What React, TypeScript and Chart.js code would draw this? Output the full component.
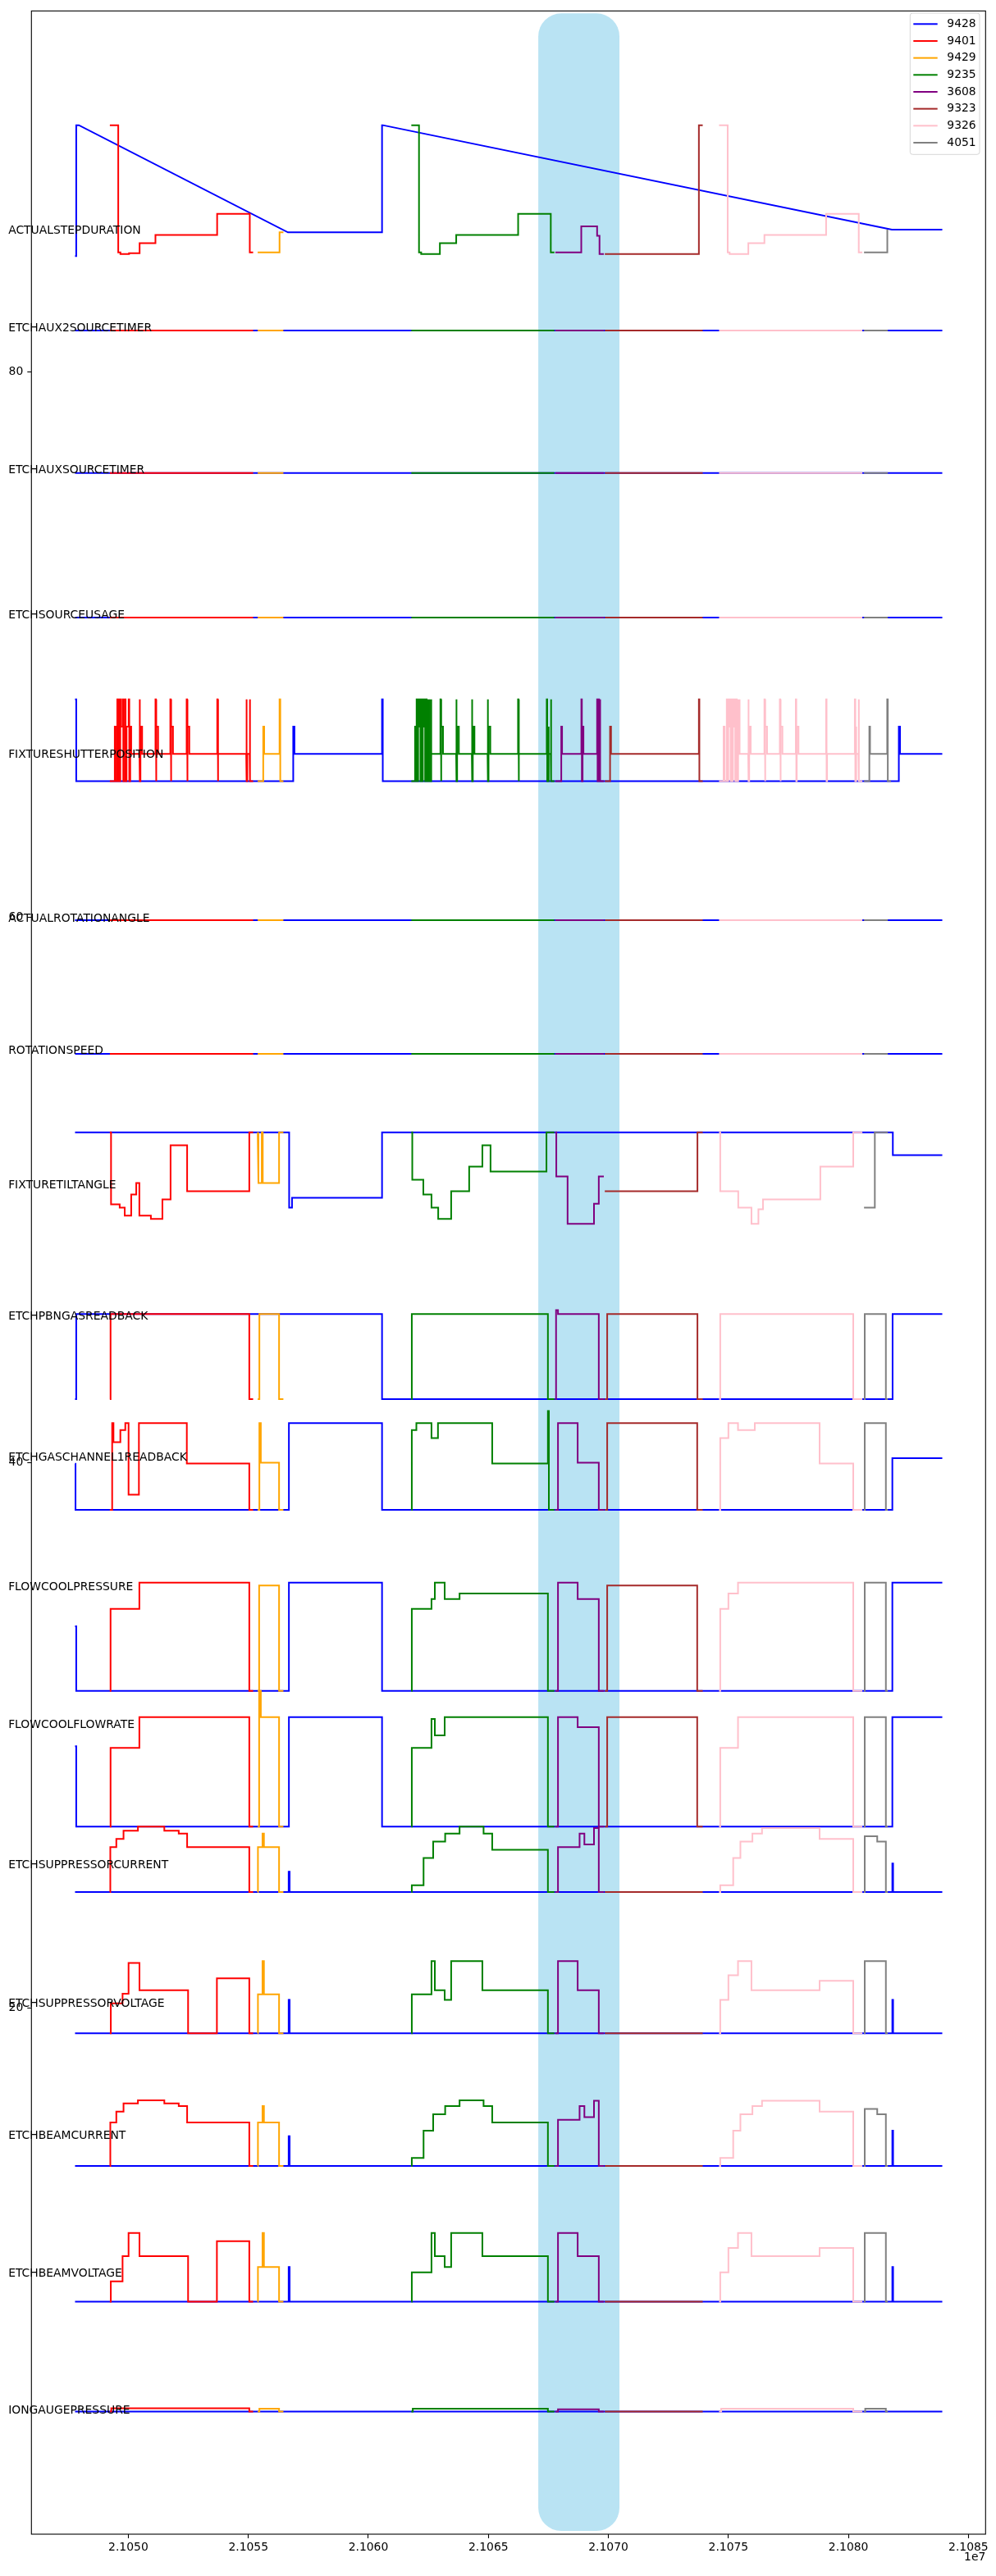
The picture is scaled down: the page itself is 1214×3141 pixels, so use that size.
import React, { useEffect, useRef } from "react";
import { Chart, registerables } from "chart.js";

Chart.register(...registerables);

type Step = [number, number];
type Signal = Record<string, Step[][]>;

const SERIES = ["9428", "9401", "9429", "9235", "3608", "9323", "9326", "4051"];
const SERIES_COLORS = ["blue", "red", "orange", "green", "purple", "brown", "pink", "gray"];
const X_TICKS = [21050000, 21055000, 21060000, 21065000, 21070000, 21075000, 21080000, 21085000];
const Y_TICKS = [20, 40, 60, 80];
const X_RANGE = [21045963, 21085714];
const Y_RANGE = [0.7, 93.25];
const HIGHLIGHT_X = [21067080, 21070460];
const HIGHLIGHT_Y = [0.82, 93.16];

const SIGNAL_NAMES = [
  "ACTUALSTEPDURATION", "ETCHAUX2SOURCETIMER", "ETCHAUXSOURCETIMER", "ETCHSOURCEUSAGE",
  "FIXTURESHUTTERPOSITION", "ACTUALROTATIONANGLE", "ROTATIONSPEED", "FIXTURETILTANGLE",
  "ETCHPBNGASREADBACK", "ETCHGASCHANNEL1READBACK", "FLOWCOOLPRESSURE", "FLOWCOOLFLOWRATE",
  "ETCHSUPPRESSORCURRENT", "ETCHSUPPRESSORVOLTAGE", "ETCHBEAMCURRENT", "ETCHBEAMVOLTAGE",
  "IONGAUGEPRESSURE",
];
const LABEL_X = 21045000;
const LABEL_Y = [85.08, 81.51, 76.29, 70.96, 65.85, 59.84, 54.99, 50.05, 45.24, 40.08, 35.33, 30.28, 25.12, 20.05, 15.2, 10.16, 5.11];

const ACTUALSTEPDURATION: Signal = {
  "9428": [[[21047780, 84.26], [21047830, 89.06], [21047940, 89.06]], [[21056650, 85.13], [21060570, 89.06], [21060600, 89.06]], [[21081810, 85.23], [21083910, 85.23]]],
  "9401": [[[21049230, 89.06], [21049580, 84.39], [21049670, 84.33], [21050030, 84.36], [21050470, 84.73], [21051130, 85.03], [21053700, 85.81], [21055060, 84.39], [21055200, 84.39]]],
  "9429": [[[21055390, 84.39], [21056300, 85.13], [21056460, 85.13]]],
  "9235": [[[21061790, 89.06], [21062110, 84.39], [21062200, 84.33], [21062980, 84.73], [21063660, 85.03], [21066240, 85.81], [21067600, 84.39], [21067750, 84.39]]],
  "3608": [[[21067790, 84.39], [21068870, 85.35], [21069530, 85.0], [21069630, 84.33], [21069810, 84.33]]],
  "9323": [[[21069850, 84.33], [21073770, 89.06], [21073930, 89.06]]],
  "9326": [[[21074610, 89.06], [21074970, 84.39], [21075050, 84.33], [21075830, 84.73], [21076500, 85.03], [21079070, 85.81], [21080430, 84.39], [21080580, 84.39]]],
  "4051": [[[21080650, 84.39], [21081620, 85.23]]],
};

const ETCHAUX2SOURCETIMER: Signal = {
  "9428": [[[21047780, 81.53], [21047940, 81.53]], [[21056650, 81.53], [21060600, 81.53]], [[21081810, 81.53], [21083910, 81.53]]],
  "9401": [[[21049230, 81.53], [21055200, 81.53]]],
  "9429": [[[21055390, 81.53], [21056460, 81.53]]],
  "9235": [[[21061790, 81.53], [21067750, 81.53]]],
  "3608": [[[21067790, 81.53], [21069810, 81.53]]],
  "9323": [[[21069850, 81.53], [21073930, 81.53]]],
  "9326": [[[21074610, 81.53], [21080580, 81.53]]],
  "4051": [[[21080650, 81.53], [21081640, 81.53]]],
};

const ETCHAUXSOURCETIMER: Signal = {
  "9428": [[[21047780, 76.3], [21047940, 76.3]], [[21056650, 76.3], [21060600, 76.3]], [[21081810, 76.3], [21083910, 76.3]]],
  "9401": [[[21049230, 76.3], [21055200, 76.3]]],
  "9429": [[[21055390, 76.3], [21056460, 76.3]]],
  "9235": [[[21061790, 76.3], [21067750, 76.3]]],
  "3608": [[[21067790, 76.3], [21069810, 76.3]]],
  "9323": [[[21069850, 76.3], [21073930, 76.3]]],
  "9326": [[[21074610, 76.3], [21080580, 76.3]]],
  "4051": [[[21080650, 76.3], [21081640, 76.3]]],
};

const ETCHSOURCEUSAGE: Signal = {
  "9428": [[[21047780, 71.0], [21047940, 71.0]], [[21056650, 71.0], [21060600, 71.0]], [[21081810, 71.0], [21083910, 71.0]]],
  "9401": [[[21049230, 71.0], [21055200, 71.0]]],
  "9429": [[[21055390, 71.0], [21056460, 71.0]]],
  "9235": [[[21061790, 71.0], [21067750, 71.0]]],
  "3608": [[[21067790, 71.0], [21069810, 71.0]]],
  "9323": [[[21069850, 71.0], [21073930, 71.0]]],
  "9326": [[[21074610, 71.0], [21080580, 71.0]]],
  "4051": [[[21080650, 71.0], [21081640, 71.0]]],
};

const FIXTURESHUTTERPOSITION: Signal = {
  "9428": [[[21047780, 68], [21047830, 65], [21047940, 65]], [[21056650, 65], [21056870, 67], [21056920, 66], [21060570, 68], [21060600, 65]], [[21081810, 65], [21082100, 67], [21082150, 66], [21083910, 66]]],
  "9401": [[[21049230, 65], [21049436, 67], [21049470, 65], [21049540, 68], [21049560, 65], [21049600, 68], [21049625, 65], [21049665, 68], [21049690, 67], [21049768, 68], [21049790, 65], [21049860, 68], [21049885, 65], [21049925, 67], [21050014, 68], [21050040, 65], [21050079, 67], [21050120, 66], [21050465, 68], [21050485, 65], [21050505, 67], [21050575, 66], [21051131, 68], [21051150, 65], [21051170, 67], [21051240, 66], [21051750, 68], [21051770, 65], [21051790, 67], [21051860, 66], [21052430, 68], [21052450, 65], [21052470, 67], [21052540, 66], [21053705, 68], [21053725, 65], [21053745, 66], [21054912, 68], [21054935, 65], [21054955, 66], [21055055, 68], [21055075, 65], [21055200, 65]]],
  "9429": [[[21055390, 65], [21055620, 67], [21055660, 66], [21056300, 68], [21056330, 65], [21056460, 65]]],
  "9235": [[[21061790, 65], [21061946, 67], [21061980, 65], [21062010, 68], [21062040, 65], [21062075, 68], [21062100, 67], [21062140, 68], [21062170, 65], [21062205, 68], [21062235, 65], [21062270, 68], [21062300, 67], [21062335, 68], [21062365, 65], [21062400, 68], [21062430, 65], [21062465, 68], [21062495, 67], [21062530, 68], [21062560, 65], [21062600, 68], [21062630, 66], [21063002, 68], [21063022, 65], [21063042, 67], [21063110, 66], [21063658, 68], [21063678, 65], [21063698, 67], [21063770, 66], [21064311, 68], [21064331, 65], [21064351, 67], [21064420, 66], [21064967, 68], [21064987, 65], [21065007, 67], [21065080, 66], [21066236, 68], [21066256, 65], [21066276, 66], [21067432, 68], [21067452, 65], [21067494, 67], [21067520, 66], [21067600, 68], [21067620, 65], [21067750, 65]]],
  "3608": [[[21067790, 65], [21068037, 67], [21068070, 66], [21068874, 68], [21068895, 65], [21068925, 67], [21068960, 66], [21069530, 68], [21069550, 65], [21069592, 68], [21069612, 65], [21069643, 68], [21069663, 65], [21069810, 65]]],
  "9323": [[[21069850, 65], [21070070, 67], [21070110, 66], [21073770, 68], [21073790, 65], [21073930, 65]]],
  "9326": [[[21074610, 65], [21074801, 67], [21074840, 65], [21074931, 68], [21074960, 65], [21074995, 68], [21075025, 67], [21075060, 68], [21075090, 65], [21075125, 68], [21075155, 65], [21075190, 68], [21075220, 67], [21075255, 68], [21075285, 65], [21075320, 68], [21075350, 65], [21075385, 68], [21075415, 67], [21075450, 68], [21075475, 66], [21075826, 68], [21075846, 65], [21075866, 67], [21075930, 66], [21076500, 68], [21076520, 65], [21076540, 67], [21076610, 66], [21077142, 68], [21077162, 65], [21077182, 67], [21077250, 66], [21077808, 68], [21077828, 65], [21077848, 67], [21077920, 66], [21079070, 68], [21079090, 65], [21079110, 66], [21080267, 68], [21080287, 65], [21080307, 67], [21080330, 66], [21080420, 68], [21080440, 65], [21080580, 65]]],
  "4051": [[[21080650, 65], [21080872, 67], [21080900, 66], [21081616, 68], [21081640, 65], [21081770, 65]]],
};

const ACTUALROTATIONANGLE: Signal = {
  "9428": [[[21047780, 59.9], [21047940, 59.9]], [[21056650, 59.9], [21060600, 59.9]], [[21081810, 59.9], [21083910, 59.9]]],
  "9401": [[[21049230, 59.9], [21055200, 59.9]]],
  "9429": [[[21055390, 59.9], [21056460, 59.9]]],
  "9235": [[[21061790, 59.9], [21067750, 59.9]]],
  "3608": [[[21067790, 59.9], [21069810, 59.9]]],
  "9323": [[[21069850, 59.9], [21073930, 59.9]]],
  "9326": [[[21074610, 59.9], [21080580, 59.9]]],
  "4051": [[[21080650, 59.9], [21081640, 59.9]]],
};

const ROTATIONSPEED: Signal = {
  "9428": [[[21047780, 55.0], [21047940, 55.0]], [[21056650, 55.0], [21060600, 55.0]], [[21081810, 55.0], [21083910, 55.0]]],
  "9401": [[[21049230, 55.0], [21055200, 55.0]]],
  "9429": [[[21055390, 55.0], [21056460, 55.0]]],
  "9235": [[[21061790, 55.0], [21067750, 55.0]]],
  "3608": [[[21067790, 55.0], [21069810, 55.0]]],
  "9323": [[[21069850, 55.0], [21073930, 55.0]]],
  "9326": [[[21074610, 55.0], [21080580, 55.0]]],
  "4051": [[[21080650, 55.0], [21081640, 55.0]]],
};

const FIXTURETILTANGLE: Signal = {
  "9428": [[[21047780, 52.12], [21047940, 52.12]], [[21056650, 52.12], [21056700, 49.36], [21056820, 49.72], [21060570, 52.12], [21060600, 52.12]], [[21081810, 52.12], [21081850, 51.28], [21083910, 51.28]]],
  "9401": [[[21049230, 52.12], [21049280, 49.48], [21049640, 49.36], [21049850, 49.06], [21050120, 49.84], [21050330, 50.26], [21050460, 49.06], [21050940, 48.94], [21051420, 49.66], [21051760, 51.64], [21052450, 49.96], [21055040, 52.12], [21055200, 52.12]]],
  "9429": [[[21055390, 52.12], [21055420, 50.26], [21055560, 52.12], [21055600, 50.26], [21056280, 52.12], [21056460, 52.12]]],
  "9235": [[[21061790, 52.12], [21061830, 50.38], [21062290, 49.84], [21062630, 49.36], [21062910, 48.94], [21063450, 49.96], [21064200, 50.86], [21064750, 51.64], [21065090, 50.68], [21067420, 52.12], [21067750, 52.12]]],
  "3608": [[[21067790, 52.12], [21067830, 50.5], [21068300, 48.76], [21069400, 49.5], [21069600, 50.5], [21069810, 50.5]]],
  "9323": [[[21069850, 49.96], [21073710, 52.12], [21073930, 52.12]]],
  "9326": [[[21074610, 52.12], [21074660, 49.96], [21075410, 49.36], [21075960, 48.76], [21076250, 49.3], [21076440, 49.66], [21078830, 50.86], [21080200, 52.12], [21080580, 52.12]]],
  "4051": [[[21080650, 49.36], [21081020, 49.36], [21081100, 52.12], [21081640, 52.12]]],
};

const ETCHPBNGASREADBACK: Signal = {
  "9428": [[[21047780, 42.33], [21047830, 45.45], [21047940, 45.45]], [[21056650, 45.45], [21060570, 42.33], [21060600, 42.33]], [[21081810, 42.33], [21081840, 45.45], [21083910, 45.45]]],
  "9401": [[[21049230, 42.33], [21049260, 45.45], [21055040, 42.33], [21055200, 42.33]]],
  "9429": [[[21055390, 42.33], [21055460, 45.45], [21056280, 42.33], [21056460, 42.33]]],
  "9235": [[[21061790, 42.33], [21061810, 45.45], [21067480, 42.33], [21067750, 42.33]]],
  "3608": [[[21067790, 42.33], [21067820, 45.6], [21067900, 45.45], [21069600, 42.33], [21069810, 42.33]]],
  "9323": [[[21069850, 42.33], [21069950, 45.45], [21073710, 42.33], [21073930, 42.33]]],
  "9326": [[[21074610, 42.33], [21074660, 45.45], [21080200, 42.33], [21080580, 42.33]]],
  "4051": [[[21080650, 42.33], [21080680, 45.45], [21081560, 42.33], [21081640, 42.33]]],
};

const ETCHGASCHANNEL1READBACK: Signal = {
  "9428": [[[21047780, 39.96], [21047800, 38.27], [21047940, 38.27]], [[21056650, 38.27], [21056690, 41.45], [21060570, 38.27], [21060600, 38.27]], [[21081810, 38.27], [21081830, 40.17], [21083910, 40.17]]],
  "9401": [[[21049230, 38.27], [21049327, 41.45], [21049381, 40.75], [21049668, 41.2], [21049874, 41.45], [21050010, 38.83], [21050441, 41.45], [21052437, 39.97], [21055040, 38.27], [21055200, 38.27]]],
  "9429": [[[21055390, 38.27], [21055460, 41.45], [21055520, 40.0], [21056280, 38.27], [21056460, 38.27]]],
  "9235": [[[21061790, 38.27], [21061810, 41.2], [21062000, 41.45], [21062630, 40.9], [21062900, 41.45], [21065160, 39.97], [21067480, 41.9], [21067520, 38.27], [21067750, 38.27]]],
  "3608": [[[21067790, 38.27], [21067900, 41.45], [21068720, 40.0], [21069600, 38.27], [21069810, 38.27]]],
  "9323": [[[21069850, 38.27], [21069950, 41.45], [21073700, 38.27], [21073930, 38.27]]],
  "9326": [[[21074610, 38.27], [21074660, 40.9], [21075000, 41.45], [21075400, 41.2], [21076100, 41.45], [21078800, 39.97], [21080200, 38.27], [21080580, 38.27]]],
  "4051": [[[21080650, 38.27], [21080680, 41.45], [21081560, 38.27], [21081640, 38.27]]],
};

const FLOWCOOLPRESSURE: Signal = {
  "9428": [[[21047780, 34.0], [21047830, 31.63], [21047940, 31.63]], [[21056650, 31.63], [21056690, 35.6], [21060570, 31.63], [21060600, 31.63]], [[21081810, 31.63], [21081830, 35.6], [21083910, 35.6]]],
  "9401": [[[21049230, 31.63], [21049260, 34.64], [21050460, 35.6], [21055040, 31.63], [21055200, 31.63]]],
  "9429": [[[21055390, 31.63], [21055450, 35.5], [21056280, 31.63], [21056460, 31.63]]],
  "9235": [[[21061790, 31.63], [21061810, 34.64], [21062630, 35.0], [21062770, 35.6], [21063180, 35.0], [21063800, 35.2], [21067480, 31.63], [21067750, 31.63]]],
  "3608": [[[21067790, 31.63], [21067900, 35.6], [21068720, 35.0], [21069600, 31.63], [21069810, 31.63]]],
  "9323": [[[21069850, 31.63], [21069950, 35.5], [21073700, 31.63], [21073930, 31.63]]],
  "9326": [[[21074610, 31.63], [21074660, 34.64], [21075000, 35.2], [21075400, 35.6], [21080200, 31.63], [21080580, 31.63]]],
  "4051": [[[21080650, 31.63], [21080680, 35.6], [21081560, 31.63], [21081640, 31.63]]],
};

const FLOWCOOLFLOWRATE: Signal = {
  "9428": [[[21047780, 29.6], [21047830, 26.65], [21047940, 26.65]], [[21056650, 26.65], [21056690, 30.67], [21060570, 26.65], [21060600, 26.65]], [[21081810, 26.65], [21081830, 30.67], [21083910, 30.67]]],
  "9401": [[[21049230, 26.65], [21049260, 29.54], [21050460, 30.67], [21055040, 26.65], [21055200, 26.65]]],
  "9429": [[[21055390, 26.65], [21055450, 31.63], [21055520, 30.67], [21056280, 26.65], [21056460, 26.65]]],
  "9235": [[[21061790, 26.65], [21061810, 29.54], [21062630, 30.6], [21062770, 30.0], [21063180, 30.67], [21067480, 26.65], [21067750, 26.65]]],
  "3608": [[[21067790, 26.65], [21067900, 30.67], [21068720, 30.3], [21069600, 26.65], [21069810, 26.65]]],
  "9323": [[[21069850, 26.65], [21069950, 30.67], [21073700, 26.65], [21073930, 26.65]]],
  "9326": [[[21074610, 26.65], [21074660, 29.54], [21075400, 30.67], [21080200, 26.65], [21080580, 26.65]]],
  "4051": [[[21080650, 26.65], [21080680, 30.67], [21081560, 26.65], [21081640, 26.65]]],
};

const ETCHSUPPRESSORCURRENT: Signal = {
  "9428": [[[21047780, 24.25], [21047940, 24.25]], [[21056650, 24.25], [21056680, 25.0], [21056720, 24.25], [21060600, 24.25]], [[21081810, 24.25], [21081830, 25.3], [21081860, 24.25], [21083910, 24.25]]],
  "9401": [[[21049230, 24.25], [21049250, 25.9], [21049500, 26.2], [21049800, 26.5], [21050400, 26.65], [21051500, 26.5], [21052100, 26.4], [21052450, 25.9], [21055040, 24.25], [21055200, 24.25]]],
  "9429": [[[21055390, 24.25], [21055400, 25.9], [21055590, 26.4], [21055650, 25.9], [21056280, 24.25], [21056460, 24.25]]],
  "9235": [[[21061790, 24.25], [21061810, 24.5], [21062300, 25.5], [21062700, 26.1], [21063200, 26.4], [21063800, 26.65], [21064800, 26.4], [21065160, 25.8], [21067480, 24.25], [21067750, 24.25]]],
  "3608": [[[21067790, 24.25], [21067900, 25.9], [21068800, 26.4], [21069000, 26.0], [21069400, 26.6], [21069600, 24.25], [21069810, 24.25]]],
  "9323": [[[21069850, 24.25], [21073930, 24.25]]],
  "9326": [[[21074610, 24.25], [21074660, 24.5], [21075200, 25.5], [21075500, 26.1], [21076000, 26.4], [21076400, 26.6], [21078800, 26.2], [21080200, 24.25], [21080580, 24.25]]],
  "4051": [[[21080650, 24.25], [21080680, 26.3], [21081200, 26.1], [21081560, 24.25], [21081640, 24.25]]],
};

const ETCHSUPPRESSORVOLTAGE: Signal = {
  "9428": [[[21047780, 19.07], [21047940, 19.07]], [[21056650, 19.07], [21056680, 20.3], [21056720, 19.07], [21060600, 19.07]], [[21081810, 19.07], [21081830, 20.3], [21081860, 19.07], [21083910, 19.07]]],
  "9401": [[[21049230, 19.07], [21049270, 20.17], [21049760, 20.52], [21050010, 21.65], [21050465, 20.65], [21052490, 19.07], [21053690, 21.09], [21055040, 19.07], [21055200, 19.07]]],
  "9429": [[[21055390, 19.07], [21055400, 20.5], [21055590, 21.72], [21055650, 20.5], [21056280, 19.07], [21056460, 19.07]]],
  "9235": [[[21061790, 19.07], [21061810, 20.5], [21062630, 21.72], [21062770, 20.65], [21063180, 20.3], [21063450, 21.72], [21064750, 20.65], [21067480, 19.07], [21067750, 19.07]]],
  "3608": [[[21067790, 19.07], [21067900, 21.72], [21068720, 20.65], [21069600, 19.07], [21069810, 19.07]]],
  "9323": [[[21069850, 19.07], [21073930, 19.07]]],
  "9326": [[[21074610, 19.07], [21074660, 20.3], [21075000, 21.2], [21075400, 21.72], [21075960, 20.65], [21078800, 21.0], [21080200, 19.07], [21080580, 19.07]]],
  "4051": [[[21080650, 19.07], [21080680, 21.72], [21081560, 19.07], [21081640, 19.07]]],
};

const ETCHBEAMCURRENT: Signal = {
  "9428": [[[21047780, 14.21], [21047940, 14.21]], [[21056650, 14.21], [21056680, 15.3], [21056720, 14.21], [21060600, 14.21]], [[21081810, 14.21], [21081830, 15.5], [21081860, 14.21], [21083910, 14.21]]],
  "9401": [[[21049230, 14.21], [21049250, 15.8], [21049500, 16.2], [21049800, 16.5], [21050400, 16.61], [21051500, 16.5], [21052100, 16.4], [21052450, 15.8], [21055040, 14.21], [21055200, 14.21]]],
  "9429": [[[21055390, 14.21], [21055400, 15.8], [21055590, 16.4], [21055650, 15.8], [21056280, 14.21], [21056460, 14.21]]],
  "9235": [[[21061790, 14.21], [21061810, 14.5], [21062300, 15.5], [21062700, 16.1], [21063200, 16.4], [21063800, 16.61], [21064800, 16.4], [21065160, 15.8], [21067480, 14.21], [21067750, 14.21]]],
  "3608": [[[21067790, 14.21], [21067900, 15.9], [21068800, 16.4], [21069000, 16.0], [21069400, 16.6], [21069600, 14.21], [21069810, 14.21]]],
  "9323": [[[21069850, 14.21], [21073930, 14.21]]],
  "9326": [[[21074610, 14.21], [21074660, 14.5], [21075200, 15.5], [21075500, 16.1], [21076000, 16.4], [21076400, 16.6], [21078800, 16.2], [21080200, 14.21], [21080580, 14.21]]],
  "4051": [[[21080650, 14.21], [21080680, 16.3], [21081200, 16.1], [21081560, 14.21], [21081640, 14.21]]],
};

const ETCHBEAMVOLTAGE: Signal = {
  "9428": [[[21047780, 9.23], [21047940, 9.23]], [[21056650, 9.23], [21056680, 10.5], [21056720, 9.23], [21060600, 9.23]], [[21081810, 9.23], [21081830, 10.5], [21081860, 9.23], [21083910, 9.23]]],
  "9401": [[[21049230, 9.23], [21049270, 9.97], [21049760, 10.9], [21050010, 11.75], [21050465, 10.9], [21052490, 9.23], [21053690, 11.45], [21055040, 9.23], [21055200, 9.23]]],
  "9429": [[[21055390, 9.23], [21055400, 10.5], [21055590, 11.75], [21055650, 10.5], [21056280, 9.23], [21056460, 9.23]]],
  "9235": [[[21061790, 9.23], [21061810, 10.3], [21062630, 11.75], [21062770, 10.9], [21063180, 10.5], [21063450, 11.75], [21064750, 10.9], [21067480, 9.23], [21067750, 9.23]]],
  "3608": [[[21067790, 9.23], [21067900, 11.75], [21068720, 10.9], [21069600, 9.23], [21069810, 9.23]]],
  "9323": [[[21069850, 9.23], [21073930, 9.23]]],
  "9326": [[[21074610, 9.23], [21074660, 10.3], [21075000, 11.2], [21075400, 11.75], [21075960, 10.9], [21078800, 11.2], [21080200, 9.23], [21080580, 9.23]]],
  "4051": [[[21080650, 9.23], [21080680, 11.75], [21081560, 9.23], [21081640, 9.23]]],
};

const IONGAUGEPRESSURE: Signal = {
  "9428": [[[21047780, 5.2], [21047940, 5.2]], [[21056650, 5.2], [21060600, 5.2]], [[21081810, 5.2], [21083910, 5.2]]],
  "9401": [[[21049230, 5.2], [21049290, 5.32], [21055040, 5.2], [21055200, 5.2]]],
  "9429": [[[21055390, 5.2], [21055460, 5.3], [21056280, 5.2], [21056460, 5.2]]],
  "9235": [[[21061790, 5.2], [21061850, 5.3], [21067480, 5.2], [21067750, 5.2]]],
  "3608": [[[21067790, 5.2], [21067900, 5.28], [21069600, 5.2], [21069810, 5.2]]],
  "9323": [[[21069850, 5.2], [21073930, 5.2]]],
  "9326": [[[21074610, 5.2], [21074700, 5.3], [21080200, 5.2], [21080580, 5.2]]],
  "4051": [[[21080650, 5.2], [21080700, 5.3], [21081560, 5.2], [21081640, 5.2]]],
};

const SIGNAL_DATA: Signal[] = [
  ACTUALSTEPDURATION, ETCHAUX2SOURCETIMER, ETCHAUXSOURCETIMER, ETCHSOURCEUSAGE,
  FIXTURESHUTTERPOSITION, ACTUALROTATIONANGLE, ROTATIONSPEED, FIXTURETILTANGLE,
  ETCHPBNGASREADBACK, ETCHGASCHANNEL1READBACK, FLOWCOOLPRESSURE, FLOWCOOLFLOWRATE,
  ETCHSUPPRESSORCURRENT, ETCHSUPPRESSORVOLTAGE, ETCHBEAMCURRENT, ETCHBEAMVOLTAGE,
  IONGAUGEPRESSURE,
];

const FONT = "'DejaVu Sans', sans-serif";

function toPoints(windows: Step[][]) {
  const pts: { x: number; y: number }[] = [];
  for (const w of windows) {
    for (let i = 0; i < w.length; i++) {
      pts.push({ x: w[i][0], y: w[i][1] });
      if (i < w.length - 1) pts.push({ x: w[i + 1][0], y: w[i][1] });
    }
  }
  return pts;
}

export default function App() {
  const ref = useRef<HTMLCanvasElement | null>(null);
  useEffect(() => {
    document.body.style.margin = "0";
    const canvas = ref.current;
    if (!canvas) return;
    const datasets: any[] = [];
    SIGNAL_DATA.forEach((sig) => {
      SERIES.forEach((s, si) => {
        const w = sig[s];
        if (!w) return;
        datasets.push({
          label: s,
          data: toPoints(w),
          borderColor: SERIES_COLORS[si],
          backgroundColor: SERIES_COLORS[si],
          borderWidth: 2,
          pointRadius: 0,
          fill: false,
          tension: 0,
          borderJoinStyle: "miter",
        });
      });
    });
    datasets.reverse();

    const overlay = {
      id: "overlay",
      beforeDatasetsDraw(chart: any) {
        const { ctx, scales } = chart;
        const xs = scales.x, ys = scales.y;
        const x0 = xs.getPixelForValue(HIGHLIGHT_X[0]);
        const x1 = xs.getPixelForValue(HIGHLIGHT_X[1]);
        const y0 = ys.getPixelForValue(HIGHLIGHT_Y[1]);
        const y1 = ys.getPixelForValue(HIGHLIGHT_Y[0]);
        ctx.save();
        ctx.fillStyle = "rgba(135,206,235,0.58)";
        ctx.beginPath();
        (ctx as any).roundRect(x0, y0, x1 - x0, y1 - y0, 28);
        ctx.fill();
        ctx.restore();
      },
      afterDatasetsDraw(chart: any) {
        const { ctx, scales, chartArea } = chart;
        const xs = scales.x, ys = scales.y;
        ctx.save();
        ctx.strokeStyle = "#000";
        ctx.lineWidth = 1.1;
        ctx.strokeRect(chartArea.left, chartArea.top, chartArea.right - chartArea.left, chartArea.bottom - chartArea.top);
        ctx.fillStyle = "#000";
        ctx.font = `13.9px ${FONT}`;
        ctx.textAlign = "left";
        ctx.textBaseline = "alphabetic";
        SIGNAL_NAMES.forEach((n, i) => {
          ctx.fillText(n, xs.getPixelForValue(LABEL_X), ys.getPixelForValue(LABEL_Y[i]));
        });
        ctx.textAlign = "right";
        ctx.textBaseline = "middle";
        ctx.fillText("1e7", chartArea.right, 3118);
        const lx = 1109.3, ly = 16, lw = 84.7, lh = 172.3;
        ctx.fillStyle = "rgba(255,255,255,0.8)";
        ctx.strokeStyle = "rgba(204,204,204,0.8)";
        ctx.lineWidth = 1;
        ctx.beginPath();
        (ctx as any).roundRect(lx, ly, lw, lh, 3);
        ctx.fill();
        ctx.stroke();
        SERIES.forEach((s, i) => {
          const y = 29.3 + i * 20.67;
          ctx.strokeStyle = SERIES_COLORS[i];
          ctx.lineWidth = 2;
          ctx.beginPath();
          ctx.moveTo(1113.3, y);
          ctx.lineTo(1142.7, y);
          ctx.stroke();
          ctx.fillStyle = "#000";
          ctx.textAlign = "left";
          ctx.textBaseline = "middle";
          ctx.fillText(s, 1154.3, y);
        });
        ctx.restore();
      },
    };

    const chart = new Chart(canvas, {
      type: "line",
      data: { datasets },
      options: {
        animation: false,
        responsive: false,
        maintainAspectRatio: false,
        devicePixelRatio: 1,
        events: [],
        layout: { padding: { top: 9, right: 12.7, left: 0, bottom: 0 } },
        plugins: { legend: { display: false }, tooltip: { enabled: false } },
        scales: {
          x: {
            type: "linear",
            min: X_RANGE[0],
            max: X_RANGE[1],
            afterBuildTicks: (s: any) => { s.ticks = X_TICKS.map((v) => ({ value: v })); },
            afterFit: (s: any) => { s.height = 51; },
            ticks: {
              autoSkip: false,
              maxRotation: 0,
              color: "#000",
              padding: 3,
              font: { family: FONT, size: 13.9 },
              callback: (v: any) => (Number(v) / 1e7).toFixed(4),
            },
            grid: { drawOnChartArea: false, drawTicks: true, tickLength: 5, tickWidth: 1.1, tickColor: "#000" },
            border: { display: false },
          },
          y: {
            type: "linear",
            min: Y_RANGE[0],
            max: Y_RANGE[1],
            afterBuildTicks: (s: any) => { s.ticks = Y_TICKS.map((v) => ({ value: v })); },
            afterFit: (s: any) => { s.width = 38.3; },
            ticks: {
              color: "#000",
              padding: 5,
              font: { family: FONT, size: 13.9 },
              callback: (v: any) => String(v),
            },
            grid: { drawOnChartArea: false, drawTicks: true, tickLength: 5, tickWidth: 1.1, tickColor: "#000" },
            border: { display: false },
          },
        },
      },
      plugins: [overlay],
    } as any);
    return () => chart.destroy();
  }, []);
  return (
    <div style={{ width: 1214, height: 3141, background: "#fff" }}>
      <canvas ref={ref} width={1214} height={3141} style={{ display: "block" }} />
    </div>
  );
}
